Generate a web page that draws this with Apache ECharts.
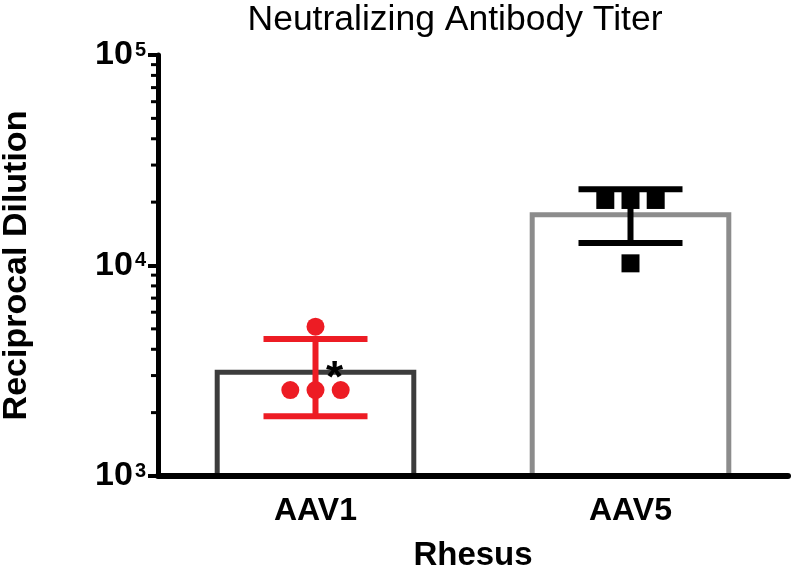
<!DOCTYPE html>
<html>
<head>
<meta charset="utf-8">
<script src="https://cdn.jsdelivr.net/npm/echarts@6/dist/echarts.min.js"></script>
<style>
  html, body { margin: 0; padding: 0; background: #fff; }
  #chart { width: 792px; height: 569px; }
</style>
</head>
<body>
<div id="chart"></div>
<script>
// values (reciprocal dilutions)
const categories = ['AAV1', 'AAV5']
const barMeans = [3200, 17920]
const errLow = [1920, 12800]
const errHigh = [4480, 23040]
const significance = ['*', '']

// individual animals, slot = left / middle / right in the jitter column
const aav1Points = [5120, 2560, 2560, 2560]
const aav1Slots = [0, -1, 0, 1]
const aav5Points = [20480, 20480, 20480, 10240]
const aav5Slots = [-1, 0, 1, 0]

const minorTicks = [2000, 3000, 4000, 5000, 6000, 7000, 8000, 9000,
  20000, 30000, 40000, 50000, 60000, 70000, 80000, 90000]

const FONT = "'Liberation Sans', Arial, sans-serif"
const RED = '#ed1c24'
const SLOT = 0.08

function pointsData(catIndex, values, slots) {
  return values.map((v, i) => [catIndex + slots[i] * SLOT, v])
}

const chart = echarts.init(document.getElementById('chart'), null, { renderer: 'canvas' })

const option = {
  animation: false,
  backgroundColor: '#fff',
  title: {
    text: 'Neutralizing Antibody Titer',
    left: 450,
    top: -3,
    textAlign: 'center',
    textStyle: { fontFamily: FONT, fontWeight: 'normal', fontSize: 35.5, color: '#000' }
  },
  grid: { left: 158, right: 4, top: 55, bottom: 93, containLabel: false, outerBoundsMode: 'none' },
  xAxis: [
    {
      type: 'category',
      data: categories,
      z: 5,
      name: 'Rhesus',
      nameLocation: 'middle',
      nameGap: 63,
      nameTextStyle: { fontFamily: FONT, fontWeight: 'bold', fontSize: 33, color: '#000' },
      axisLine: { lineStyle: { color: '#000', width: 6 } },
      axisTick: { alignWithLabel: true, length: 12, lineStyle: { color: '#000', width: 4 } },
      axisLabel: { fontFamily: FONT, fontWeight: 'bold', fontSize: 32, color: '#000', margin: 19 }
    },
    {
      type: 'value',
      min: -0.5,
      max: 1.5,
      show: false
    }
  ],
  yAxis: {
    type: 'log',
    logBase: 10,
    min: 1000,
    max: 100000,
    z: 5,
    name: 'Reciprocal Dilution',
    nameLocation: 'middle',
    nameGap: 124,
    nameTextStyle: { fontFamily: FONT, fontWeight: 'bold', fontSize: 34, color: '#000' },
    axisLine: { show: true, onZero: false, lineStyle: { color: '#000', width: 5 } },
    axisTick: { show: true, length: 10, lineStyle: { color: '#000', width: 4 } },
    splitLine: { show: false },
    axisLabel: {
      margin: 12,
      formatter: (v) => '{b|10}{s|' + Math.round(Math.log10(v)) + '}',
      rich: {
        b: { fontFamily: FONT, fontWeight: 'bold', fontSize: 34, color: '#000', lineHeight: 36 },
        s: { fontFamily: FONT, fontWeight: 'bold', fontSize: 20, color: '#000', verticalAlign: 'top', lineHeight: 22, padding: [3, 0, 0, 2] }
      }
    }
  },
  series: [
    {
      type: 'bar',
      z: 2,
      barWidth: '64%',
      data: barMeans.map((v, i) => ({
        value: v,
        itemStyle: {
          color: '#fff',
          borderColor: i === 0 ? '#3c3c3c' : '#8c8c8c',
          borderWidth: 5
        },
        label: {
          show: significance[i] !== '',
          formatter: significance[i],
          position: 'top',
          distance: 0,
          offset: [19, 32],
          fontFamily: FONT,
          fontWeight: 'bold',
          fontSize: 44,
          color: '#000'
        }
      }))
    },
    {
      // y-axis minor ticks (log decades)
      type: 'custom',
      z: 6,
      xAxisIndex: 1,
      data: minorTicks.map((v) => [-0.5, v]),
      silent: true,
      renderItem: (params, api) => {
        const p = api.coord([api.value(0), api.value(1)])
        return {
          type: 'line',
          shape: { x1: p[0] - 7, y1: p[1], x2: p[0], y2: p[1] },
          style: { stroke: '#000', lineWidth: 3 }
        }
      }
    },
    {
      // mean ± SD error bars
      type: 'custom',
      z: 3,
      xAxisIndex: 1,
      data: categories.map((c, i) => [i, errLow[i], errHigh[i]]),
      renderItem: (params, api) => {
        const x = api.value(0)
        const lo = api.coord([x, api.value(1)])
        const hi = api.coord([x, api.value(2)])
        const half = 52
        const color = params.dataIndex === 0 ? RED : '#000'
        const style = { stroke: color, lineWidth: 6 }
        return {
          type: 'group',
          children: [
            { type: 'line', shape: { x1: lo[0], y1: lo[1], x2: hi[0], y2: hi[1] }, style },
            { type: 'line', shape: { x1: lo[0] - half, y1: lo[1], x2: lo[0] + half, y2: lo[1] }, style },
            { type: 'line', shape: { x1: hi[0] - half, y1: hi[1], x2: hi[0] + half, y2: hi[1] }, style }
          ]
        }
      }
    },
    {
      type: 'scatter',
      z: 4,
      xAxisIndex: 1,
      symbol: 'circle',
      symbolSize: 18,
      itemStyle: { color: RED, opacity: 1 },
      data: pointsData(0, aav1Points, aav1Slots)
    },
    {
      type: 'scatter',
      z: 4,
      xAxisIndex: 1,
      symbol: 'rect',
      symbolSize: 18,
      itemStyle: { color: '#000', opacity: 1 },
      data: pointsData(1, aav5Points, aav5Slots)
    }
  ]
}

chart.setOption(option)
</script>
</body>
</html>
